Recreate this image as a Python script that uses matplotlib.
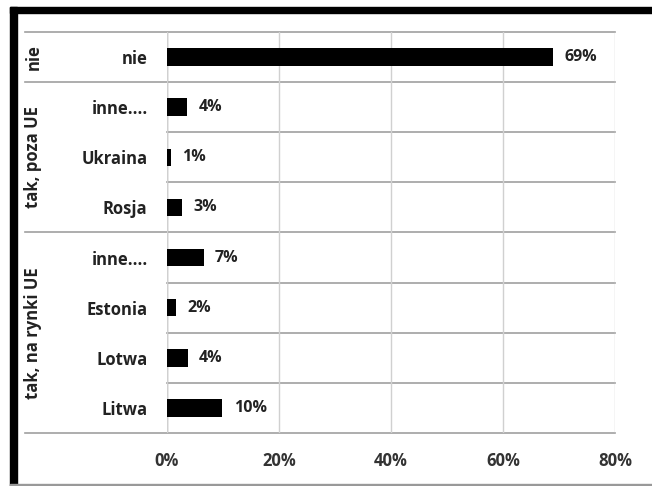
import matplotlib.pyplot as plt
from matplotlib.patches import Rectangle

# dane (od dołu do góry)
categories = ["Litwa", "Lotwa", "Estonia", "inne....", "Rosja", "Ukraina", "inne....", "nie"]
values = [9.9, 3.7, 1.6, 6.6, 2.7, 0.7, 3.6, 69]
groups = ["tak, na rynki UE", "tak, poza UE", "nie"]
group_sizes = [4, 3, 1]
xticks = [0, 20, 40, 60, 80]

plt.rcParams['font.family'] = ['Open Sans', 'DejaVu Sans']
W, H = 652, 486
fig = plt.figure(figsize=(W / 100, H / 100), dpi=100)
ax = fig.add_axes([167 / W, 1 - 433 / H, 448 / W, 401 / H])

y = list(range(len(categories)))
ax.barh(y, values, height=0.35, color="black", zorder=3)
for yi, v in zip(y, values):
    ax.annotate(f"{v:.0f}%", (v, yi), xytext=(8, 0), textcoords="offset points",
                va="center", ha="left", fontsize=11.5, fontweight="bold", color="#222222")

ax.set_xlim(0, 80)
ax.set_ylim(-0.5, len(categories) - 0.5)
ax.set_xticks(xticks)
ax.set_xticklabels([f"{t}%" for t in xticks], fontsize=12, fontweight="bold", color="#333333")
ax.set_yticks(y)
ax.set_yticklabels(categories, fontsize=12, fontweight="bold", color="#222222")
ax.tick_params(length=0)
ax.tick_params(axis="y", pad=14)
ax.tick_params(axis="x", pad=14)
for s in ax.spines.values():
    s.set_visible(False)
ax.grid(axis="x", color="#d0d0d0", linewidth=1, zorder=0)
ax.axvline(0, color="#b0b0b0", linewidth=1, zorder=1)

# linie poziome między kategoriami i grupami
bounds = [-0.5]
for n in group_sizes:
    bounds.append(bounds[-1] + n)
tr = ax.get_yaxis_transform()
for b in range(len(categories) + 1):
    yb = b - 0.5
    x0 = -0.317 if yb in bounds else 0
    ax.plot([x0, 1], [yb, yb], transform=tr, color="#a0a0a0", linewidth=1.2,
            clip_on=False, zorder=1)

# etykiety grup
for g, lo, hi in zip(groups, bounds[:-1], bounds[1:]):
    ax.text(-0.298, (lo + hi) / 2, g, transform=tr, rotation=90, ha="center", va="center",
            fontsize=12, fontweight="bold", color="#222222")

# ramka obrazka
fig.add_artist(Rectangle((10 / W, 0), 7 / W, 1 - 7 / H, transform=fig.transFigure,
                         color="black", zorder=10))
fig.add_artist(Rectangle((10 / W, 1 - 13 / H), 1 - 10 / W, 6 / H, transform=fig.transFigure,
                         color="black", zorder=10))
fig.add_artist(Rectangle((10 / W, 0), 1 - 10 / W, 2 / H, transform=fig.transFigure,
                         color="#999999", zorder=10))

fig.savefig("out.png", dpi=100)
